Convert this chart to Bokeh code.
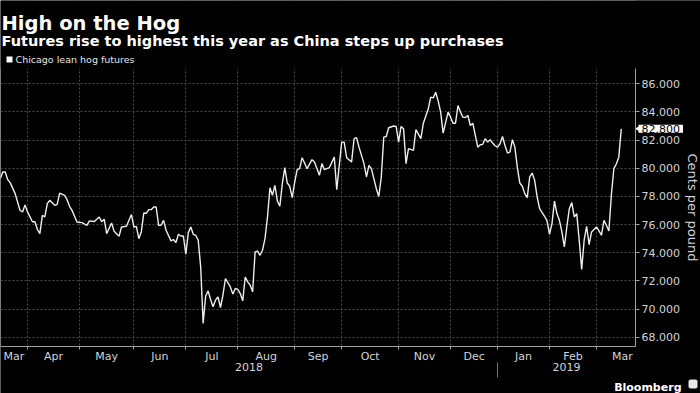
import math
import numpy as np
from bokeh.plotting import figure
from bokeh.models import (ColumnDataSource, Range1d, FixedTicker, LinearAxis, Grid,
                          NumeralTickFormatter, Label, BoxAnnotation)
from bokeh.embed import file_html
from bokeh.resources import INLINE

# ---------------- data (trading days) ----------------
dates = [
    "2018-03-15", "2018-03-16", "2018-03-19", "2018-03-20", "2018-03-21", "2018-03-23", "2018-03-27", "2018-03-28", "2018-03-29",
    "2018-04-02", "2018-04-04", "2018-04-05", "2018-04-06", "2018-04-09", "2018-04-10", "2018-04-11", "2018-04-12", "2018-04-13",
    "2018-04-17", "2018-04-18", "2018-04-19", "2018-04-23", "2018-04-24", "2018-04-25", "2018-04-26", "2018-04-30",
    "2018-05-02", "2018-05-04", "2018-05-07", "2018-05-09", "2018-05-11", "2018-05-14", "2018-05-15", "2018-05-16", "2018-05-18",
    "2018-05-21", "2018-05-23", "2018-05-24", "2018-05-29", "2018-05-31",
    "2018-06-01", "2018-06-04", "2018-06-05", "2018-06-06", "2018-06-07", "2018-06-08", "2018-06-11", "2018-06-12", "2018-06-13",
    "2018-06-14", "2018-06-15", "2018-06-18", "2018-06-19", "2018-06-20", "2018-06-22", "2018-06-25", "2018-06-26", "2018-06-27",
    "2018-06-28", "2018-06-29",
    "2018-07-02", "2018-07-03", "2018-07-05", "2018-07-06", "2018-07-09", "2018-07-10", "2018-07-11", "2018-07-12", "2018-07-13",
    "2018-07-16", "2018-07-17", "2018-07-18", "2018-07-19", "2018-07-20", "2018-07-23", "2018-07-24", "2018-07-25", "2018-07-27",
    "2018-07-30", "2018-07-31",
    "2018-08-01", "2018-08-02", "2018-08-03", "2018-08-06", "2018-08-07", "2018-08-08", "2018-08-09", "2018-08-10", "2018-08-13",
    "2018-08-14", "2018-08-15", "2018-08-16", "2018-08-17", "2018-08-20", "2018-08-21", "2018-08-22", "2018-08-23", "2018-08-24",
    "2018-08-27", "2018-08-28", "2018-08-29", "2018-08-30", "2018-08-31",
    "2018-09-04", "2018-09-05", "2018-09-06", "2018-09-07", "2018-09-10", "2018-09-11", "2018-09-13", "2018-09-14", "2018-09-18",
    "2018-09-19", "2018-09-20", "2018-09-24", "2018-09-26", "2018-09-27",
    "2018-10-01", "2018-10-02", "2018-10-03", "2018-10-05", "2018-10-08", "2018-10-09", "2018-10-10", "2018-10-12", "2018-10-15",
    "2018-10-16", "2018-10-17", "2018-10-19", "2018-10-22", "2018-10-23", "2018-10-24", "2018-10-25", "2018-10-26", "2018-10-30",
    "2018-10-31",
    "2018-11-01", "2018-11-02", "2018-11-05", "2018-11-06", "2018-11-07", "2018-11-09", "2018-11-12", "2018-11-14", "2018-11-15",
    "2018-11-19", "2018-11-20", "2018-11-21", "2018-11-23", "2018-11-26", "2018-11-27", "2018-11-28", "2018-11-30",
    "2018-12-03", "2018-12-04", "2018-12-06", "2018-12-07", "2018-12-10", "2018-12-11", "2018-12-12", "2018-12-13", "2018-12-14",
    "2018-12-17", "2018-12-18", "2018-12-19", "2018-12-20", "2018-12-21", "2018-12-24", "2018-12-26", "2018-12-27", "2018-12-28",
    "2018-12-31",
    "2019-01-02", "2019-01-03", "2019-01-04", "2019-01-07", "2019-01-08", "2019-01-09", "2019-01-10", "2019-01-11", "2019-01-14",
    "2019-01-15", "2019-01-16", "2019-01-17", "2019-01-18", "2019-01-22", "2019-01-23", "2019-01-24", "2019-01-25", "2019-01-28",
    "2019-01-30", "2019-01-31",
    "2019-02-01", "2019-02-04", "2019-02-05", "2019-02-06", "2019-02-07", "2019-02-08", "2019-02-11", "2019-02-12", "2019-02-13",
    "2019-02-14", "2019-02-15", "2019-02-19", "2019-02-20", "2019-02-21", "2019-02-22", "2019-02-25", "2019-02-26", "2019-02-27",
    "2019-02-28",
    "2019-03-01", "2019-03-04", "2019-03-05", "2019-03-06", "2019-03-07", "2019-03-08", "2019-03-11", "2019-03-12", "2019-03-13",
    "2019-03-14", "2019-03-15",
]

prices = [
    79.26, 79.73, 79.73, 79.19, 78.98, 78.20, 77.00, 76.90, 77.40,
    76.90, 76.20, 76.20, 75.65, 75.36, 76.66, 76.54, 77.49, 77.72,
    77.37, 77.44, 78.24, 78.08, 77.77, 77.30, 77.01, 76.18,
    76.14, 75.95, 76.26, 76.22, 76.54, 76.20, 76.38, 75.36, 76.11,
    75.52, 75.17, 75.83, 75.88, 76.71,
    75.83, 75.87, 75.00, 75.48, 76.82, 76.80, 77.06, 77.06, 77.25,
    77.25, 75.95, 75.95, 76.30, 75.60, 74.84, 74.94, 74.72, 75.31,
    75.19, 75.19,
    73.90, 75.43, 75.83, 75.31, 75.24, 74.89, 73.00, 68.98, 70.91,
    71.29, 70.68, 70.16, 70.63, 70.87, 70.11, 70.99, 72.17, 71.57,
    71.06, 71.46,
    71.40, 71.10, 70.58, 72.28, 71.93, 71.70, 71.22, 74.06, 74.11,
    73.82, 74.18, 75.00, 76.54, 78.62, 78.08, 78.79, 77.67, 77.30,
    78.91, 80.04, 78.95, 78.72, 77.91,
    79.02, 79.90, 79.97, 80.75, 80.37, 79.97, 80.61, 80.44, 79.50,
    80.33, 79.90, 80.04, 80.79, 78.48,
    81.86, 81.86, 80.75, 80.44, 82.10, 82.17, 81.50, 80.33, 79.38,
    80.20, 79.97, 78.55, 78.00, 79.38, 82.21, 82.26, 82.88, 83.00,
    82.97,
    81.86, 82.97, 82.80, 80.33, 81.39, 81.27, 82.74, 82.10, 83.20,
    84.23, 85.05, 85.00, 85.40, 84.77, 83.99, 82.50, 83.99,
    83.63, 83.20, 83.20, 84.46, 83.99, 83.63, 83.60, 83.75, 83.04,
    83.20, 82.33, 81.50, 81.67, 81.70, 82.10, 81.86, 82.03, 81.79,
    81.60,
    81.50, 81.74, 82.26, 81.62, 81.08, 81.15, 82.03, 81.50, 80.04,
    78.95, 78.72, 78.20, 77.91, 79.38, 79.66, 79.14, 77.96, 77.13,
    76.59, 76.26,
    75.31, 76.07, 77.67, 76.78, 76.30, 75.48, 74.41, 75.83, 77.13,
    77.56, 76.54, 76.78, 74.89, 72.81, 74.89, 75.88, 74.58, 75.48,
    75.65,
    75.83, 75.55, 75.24, 76.30, 75.95, 75.55, 78.08, 79.97, 80.30,
    80.79, 82.80,
]

# exchange holidays in the window (trading-day axis)
holidays = ["2018-03-30", "2018-05-28", "2018-07-04", "2018-09-03", "2018-11-22",
            "2018-12-05", "2018-12-25", "2019-01-01", "2019-01-21", "2019-02-18", "2019-04-19"]

month_names = ["Mar", "Apr", "May", "Jun", "Jul", "Aug", "Sep", "Oct", "Nov", "Dec", "Jan", "Feb", "Mar"]
month_starts = ["2018-03-01", "2018-04-01", "2018-05-01", "2018-06-01", "2018-07-01", "2018-08-01", "2018-09-01",
                "2018-10-01", "2018-11-01", "2018-12-01", "2019-01-01", "2019-02-01", "2019-03-01", "2019-04-01"]
year_names = ["2018", "2019"]
year_starts = ["2018-01-01", "2019-01-01"]
y_ticks = [68, 70, 72, 74, 76, 78, 80, 82, 84, 86]

title = "High on the Hog"
subtitle = "Futures rise to highest this year as China steps up purchases"
series_name = "Chicago lean hog futures"
y_label = "Cents per pound"
source_name = "Bloomberg"

# ---------------- trading-day index ----------------
HOL = np.array(holidays, dtype="datetime64[D]")
ORIGIN = np.datetime64(dates[0], "D")


def tday(d):
    d = np.busday_offset(np.datetime64(d, "D"), 0, roll="forward", holidays=HOL)
    return float(np.busday_count(ORIGIN, d, holidays=HOL))


xs = [tday(d) for d in dates]

# ---------------- layout (pixels of the 700x393 canvas) ----------------
W, H = 700, 393
REF_IDX = tday("2018-04-01")                # first April session sits at x=27 px
REF_DAY_PX, PX_PER_DAY = 27.0, 2.474
REF_VAL_PX, PX_PER_UNIT = 83.3, 14.078      # 86 sits at y=83.3 px
AXIS_PX, TOP_PX, BOTTOM_PX, YEAR_PX = 635, 68, 346, 362


def x_at(px):
    return REF_IDX + (px - REF_DAY_PX) / PX_PER_DAY


def y_at(py):
    return 86 - (py - REF_VAL_PX) / PX_PER_UNIT


x_lo, x_axis = x_at(0), x_at(AXIS_PX)
y_top, y_bottom, y_year = y_at(TOP_PX), y_at(BOTTOM_PX), y_at(YEAR_PX)

starts_idx = [tday(s) for s in month_starts]
grid_ticks = starts_idx[1:-1]
month_mid, month_overrides = [], {}
for i, name in enumerate(month_names):
    c = (max(starts_idx[i], x_lo) + starts_idx[i + 1]) / 2
    month_mid.append(c)
    month_overrides[c] = name

year_idx = [tday(s) for s in year_starts]
year_mid, year_overrides = [], {}
for i, name in enumerate(year_names):
    hi = year_idx[i + 1] if i + 1 < len(year_idx) else x_axis
    c = (max(year_idx[i], x_lo) + min(hi, x_axis)) / 2
    year_mid.append(c)
    year_overrides[c] = name
year_sep = year_idx[1:]

FONT = "DejaVu Sans"
TXT = "#d4d4d4"
GRID = "#4a4a4a"
AX = "#a0a0a0"

src = ColumnDataSource(dict(x=xs, date=dates, price=prices))

p = figure(width=W, height=H, x_axis_type=None, y_axis_location="right",
           x_range=Range1d(x_at(0), x_at(W)), y_range=Range1d(y_at(H), y_at(0)),
           output_backend="svg", toolbar_location=None,
           background_fill_color="black", border_fill_color="black",
           outline_line_color=None,
           min_border_left=0, min_border_right=0, min_border_top=0, min_border_bottom=0)

# grids
p.add_layout(Grid(dimension=0, ticker=FixedTicker(ticks=grid_ticks),
                  grid_line_color=GRID, grid_line_dash="2 2", grid_line_width=1))
p.ygrid.ticker = FixedTicker(ticks=y_ticks)
p.ygrid.grid_line_color = GRID
p.ygrid.grid_line_dash = "2 2"

# black masks outside the plotting area (keep the grid inside it)
for kw in (dict(bottom=y_top), dict(top=y_bottom), dict(left=x_axis)):
    p.add_layout(BoxAnnotation(fill_color="black", fill_alpha=1, line_color=None,
                               level="underlay", **kw))

# y axis (right edge of the plotting area)
ya = p.yaxis[0]
ya.fixed_location = x_axis
ya.bounds = (y_bottom, y_top)
ya.ticker = FixedTicker(ticks=y_ticks)
ya.formatter = NumeralTickFormatter(format="0.000")
ya.axis_label = y_label
ya.axis_label_text_font = FONT
ya.axis_label_text_font_size = "13px"
ya.axis_label_text_font_style = "normal"
ya.axis_label_text_color = TXT
ya.axis_label_standoff = 2
ya.major_label_text_font = FONT
ya.major_label_text_font_size = "11px"
ya.major_label_text_color = TXT
ya.major_label_standoff = 2
ya.axis_line_color = AX
ya.major_tick_line_color = AX
ya.major_tick_out = 4
ya.major_tick_in = 0
ya.minor_tick_line_color = None

# month axis
xa = LinearAxis(ticker=FixedTicker(ticks=month_mid, minor_ticks=grid_ticks),
                major_label_overrides=month_overrides, fixed_location=y_bottom,
                bounds=(x_lo, x_axis),
                major_label_text_font=FONT, major_label_text_font_size="11px",
                major_label_text_color=TXT, major_label_standoff=0,
                axis_line_color=AX, major_tick_line_color=None, major_tick_out=0, major_tick_in=0,
                minor_tick_line_color=AX, minor_tick_out=3, minor_tick_in=0)
p.add_layout(xa, "below")

# year axis
xa2 = LinearAxis(ticker=FixedTicker(ticks=year_mid, minor_ticks=year_sep),
                 major_label_overrides=year_overrides, fixed_location=y_year,
                 major_label_text_font=FONT, major_label_text_font_size="11px",
                 major_label_text_color=TXT, major_label_standoff=-15,
                 axis_line_color=None, major_tick_line_color=None, major_tick_out=0, major_tick_in=0,
                 minor_tick_line_color="#777777", minor_tick_out=15, minor_tick_in=0)
p.add_layout(xa2, "below")

# series
p.line(x="x", y="price", source=src, line_color="#eeeeee", line_width=1.4)

# last value tag
p.scatter(x=[x_at(AXIS_PX + 4)], y=[prices[-1]], marker="triangle", angle=math.pi / 2,
          size=8, fill_color="white", line_color=None)
p.add_layout(Label(x=AXIS_PX + 3, x_units="screen", y=prices[-1], text=f"{prices[-1]:.3f}",
                   text_font=FONT, text_font_size="11px", text_color="black",
                   text_baseline="middle", background_fill_color="white", padding=(3, 0)))

# legend key + text
p.add_layout(BoxAnnotation(left=6, right=12, top=H - 56, bottom=H - 62,
                           left_units="screen", right_units="screen",
                           top_units="screen", bottom_units="screen",
                           fill_color="white", fill_alpha=1, line_color=None))
p.add_layout(Label(x=15, y=H - 59, x_units="screen", y_units="screen", text=series_name,
                   text_font=FONT, text_font_size="9.5px", text_color="#e6e6e6",
                   text_baseline="middle"))

# titles
p.add_layout(Label(x=1, y=H - 23, x_units="screen", y_units="screen", text=title,
                   text_font=FONT, text_font_size="19.5px", text_font_style="bold",
                   text_color="white", text_baseline="alphabetic"))
p.add_layout(Label(x=1, y=H - 40, x_units="screen", y_units="screen", text=subtitle,
                   text_font=FONT, text_font_size="14.5px", text_font_style="bold",
                   text_color="white", text_baseline="alphabetic"))

# source + logo block
p.add_layout(Label(x=681, y=H - 387, x_units="screen", y_units="screen", text=source_name,
                   text_font=FONT, text_font_size="11px", text_font_style="bold",
                   text_color="white", text_align="right", text_baseline="alphabetic"))
p.add_layout(BoxAnnotation(left=688, right=697, top=H - 379, bottom=H - 388,
                           left_units="screen", right_units="screen",
                           top_units="screen", bottom_units="screen",
                           fill_color="#e6e6e6", fill_alpha=1, line_color=None, border_radius=2))

open("out.html", "w").write(file_html(p, INLINE))
